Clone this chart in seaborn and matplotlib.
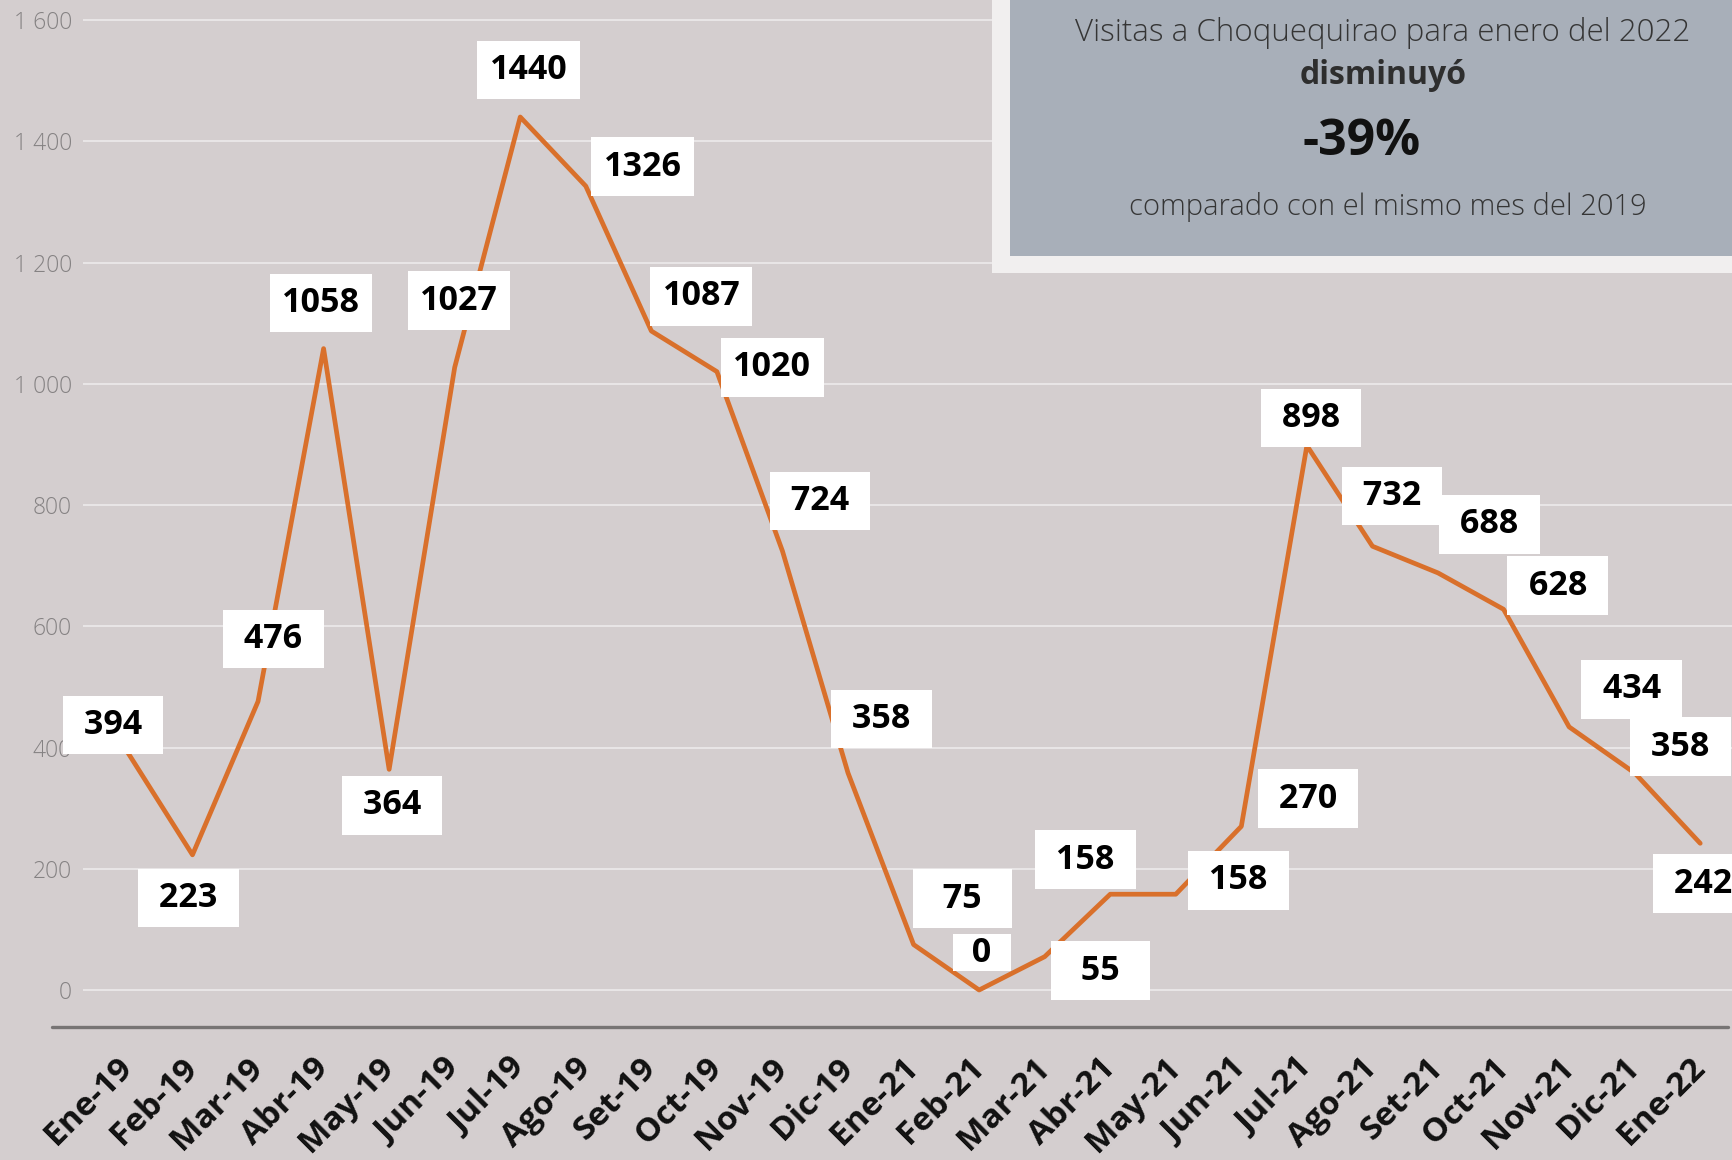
import numpy as np
import pandas as pd
import matplotlib
matplotlib.use("Agg")
import matplotlib.pyplot as plt
import seaborn as sns

months = ['Ene-19', 'Feb-19', 'Mar-19', 'Abr-19', 'May-19', 'Jun-19', 'Jul-19',
          'Ago-19', 'Set-19', 'Oct-19', 'Nov-19', 'Dic-19', 'Ene-21', 'Feb-21',
          'Mar-21', 'Abr-21', 'May-21', 'Jun-21', 'Jul-21', 'Ago-21', 'Set-21',
          'Oct-21', 'Nov-21', 'Dic-21', 'Ene-22']
visitas = [394, 223, 476, 1058, 364, 1027, 1440, 1326, 1087, 1020, 724, 358,
           75, 0, 55, 158, 158, 270, 898, 732, 688, 628, 434, 358, 242]
y_ticks = [0, 200, 400, 600, 800, 1000, 1200, 1400, 1600]

# where each value box sits relative to its point (points)
label_offsets = [(-10, 19), (-3, -31), (11, 45), (-2, 33), (2, -26), (3, 48),
                 (6, 34), (41, 14), (36, 25), (40, 3), (27, 36), (24, 39),
                 (35, 33), (2, 27), (40, -10), (-18, 25), (45, 10), (48, 20),
                 (3, 20), (14, 36), (37, 35), (39, 17), (45, 27), (33, 19),
                 (2, -29)]

df = pd.DataFrame({'idx': np.arange(len(months)), 'mes': months, 'visitas': visitas})

bg = '#d4cecf'
sns.set_theme(style='white')
plt.rcParams['font.family'] = ['Open Sans', 'DejaVu Sans']

fig = plt.figure(figsize=(17.33, 11.6), dpi=100, facecolor=bg)
ax = fig.add_axes([83 / 1733, 133 / 1160, 1 - 83 / 1733, 1027 / 1160])
ax.set_facecolor(bg)

sns.lineplot(data=df, x='idx', y='visitas', ax=ax, color='#d9702b',
             linewidth=3.4, zorder=3)

ax.set_xlim(-0.67, 24.5)
ax.set_ylim(-61, 1633)
for v in y_ticks:
    ax.axhline(v, color='#ebe8e9', lw=1.3, zorder=1)

ax.set_yticks(y_ticks)
ax.set_yticklabels([f'{v:,}'.replace(',', ' ') for v in y_ticks],
                   fontsize=16.5, color='#858283', fontweight='light')
ax.set_xticks(df['idx'])
ax.set_xticklabels(months, rotation=45, ha='right', va='center',
                   rotation_mode='anchor', fontsize=24, fontweight='bold',
                   color='#111111')
ax.tick_params(axis='y', length=0, pad=8)
ax.tick_params(axis='x', length=0, pad=26)
ax.set_xlabel('')
ax.set_ylabel('')
for s in ax.spines.values():
    s.set_visible(False)

# dark base line
ax.plot([-1.15, 24.42], [-61, -61], color='#777474', lw=2.4, clip_on=False,
        zorder=2, solid_capstyle='round')

# pad short numbers with spaces so the white boxes have similar widths
spaces = {1: 2, 2: 2, 3: 1, 4: 0}
for i, (v, off) in enumerate(zip(visitas, label_offsets)):
    pad = ' ' * spaces[len(str(v))]
    box_pad = 0.05 if v < 10 else 0.36
    ax.annotate(f'{pad}{v}{pad}', (i, v), xytext=off, textcoords='offset points',
                ha='center', va='center', fontsize=24.5, fontweight='bold',
                color='black', zorder=5, annotation_clip=False,
                bbox=dict(boxstyle=f'square,pad={box_pad}', fc='white', ec='none'))

# info panel at top right
fig.patches.append(plt.Rectangle((992 / 1733, 1 - 273 / 1160), 1, 273 / 1160,
                                 transform=fig.transFigure, fc='#f1efef',
                                 ec='none', zorder=6))
fig.patches.append(plt.Rectangle((1010 / 1733, 1 - 256 / 1160), 1, 256 / 1160,
                                 transform=fig.transFigure, fc='#a8afb9',
                                 ec='none', zorder=7))
fig.text(1383 / 1733, 1 - 33 / 1160, 'Visitas a Choquequirao para enero del 2022',
         ha='center', va='center', fontsize=22.5, fontweight='light',
         color='#353535', zorder=8)
fig.text(1383 / 1733, 1 - 75 / 1160, 'disminuyó', ha='center', va='center',
         fontsize=23, fontweight='bold', color='#2e2e2e', zorder=8)
fig.text(1362 / 1733, 1 - 142 / 1160, '-39%', ha='center', va='center',
         fontsize=36, fontweight='bold', color='#111111', zorder=8)
fig.text(1388 / 1733, 1 - 207 / 1160, 'comparado con el mismo mes del 2019',
         ha='center', va='center', fontsize=21, fontweight='light',
         color='#353535', zorder=8)

fig.savefig('out.png', dpi=100, facecolor=bg)
